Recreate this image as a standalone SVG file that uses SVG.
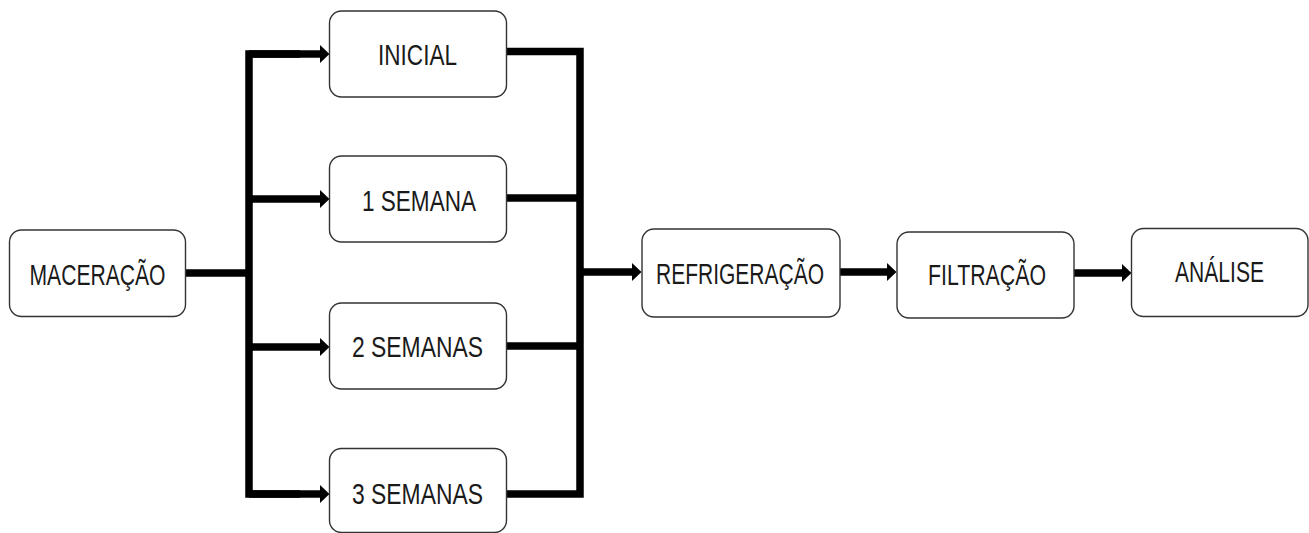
<svg xmlns="http://www.w3.org/2000/svg" width="1309" height="533" viewBox="0 0 1309 533">
  <style>
    .box { fill: #ffffff; stroke: #333333; stroke-width: 1.4; }
    .lbl { font-family: "Liberation Sans Narrow", "Liberation Sans", Arial, sans-serif; font-size: 29px; fill: #1a1a1a; text-anchor: middle; }
    .wire { fill: none; stroke: #000000; stroke-width: 7.5; stroke-linejoin: miter; stroke-linecap: butt; }
    .arrow { fill: none; stroke: #000000; stroke-width: 7.5; stroke-linecap: butt; marker-end: url(#head); }
  </style>
  <defs>
    <marker id="head" markerUnits="userSpaceOnUse" markerWidth="11" markerHeight="20" refX="0.5" refY="9.5" orient="auto">
      <path d="M0,0 L10,9.5 L0,19 Z" fill="#000000"/>
    </marker>
  </defs>
  <rect width="1309" height="533" fill="#ffffff"/>

  <!-- connectors -->
  <g id="connectors">
    <!-- maceration to distribution bus -->
    <path class="wire" d="M186 273 H249"/>
    <!-- left distribution bus -->
    <path class="wire" d="M300 54 H249 V494 H300"/>
    <path class="arrow" d="M249 54 H320"/>
    <path class="arrow" d="M249 199 H320"/>
    <path class="arrow" d="M249 347 H320"/>
    <path class="arrow" d="M249 494 H320"/>
    <!-- right collecting bus -->
    <path class="wire" d="M507 51.5 H580 V494 H507"/>
    <path class="wire" d="M507 198 H580"/>
    <path class="wire" d="M507 346 H580"/>
    <path class="arrow" d="M580 272 H632"/>
    <!-- main line -->
    <path class="arrow" d="M840 272 H887"/>
    <path class="arrow" d="M1074 273 H1122"/>
  </g>

  <g id="maceracao">
    <rect class="box" x="9.5" y="230" width="176" height="86.5" rx="12"/>
    <text class="lbl" x="97.5" y="285" textLength="136" lengthAdjust="spacingAndGlyphs">MACERAÇÃO</text>
  </g>
  <g id="inicial">
    <rect class="box" x="329.5" y="11" width="177" height="86" rx="12"/>
    <text class="lbl" x="417.5" y="65" textLength="79" lengthAdjust="spacingAndGlyphs">INICIAL</text>
  </g>
  <g id="semana1">
    <rect class="box" x="329.5" y="156" width="177" height="86" rx="12"/>
    <text class="lbl" x="419" y="211" textLength="114" lengthAdjust="spacingAndGlyphs">1 SEMANA</text>
  </g>
  <g id="semanas2">
    <rect class="box" x="329.5" y="303" width="177" height="86" rx="12"/>
    <text class="lbl" x="417.5" y="357" textLength="131" lengthAdjust="spacingAndGlyphs">2 SEMANAS</text>
  </g>
  <g id="semanas3">
    <rect class="box" x="329.5" y="448.5" width="177" height="84" rx="12"/>
    <text class="lbl" x="417.5" y="503.5" textLength="131" lengthAdjust="spacingAndGlyphs">3 SEMANAS</text>
  </g>
  <g id="refrigeracao">
    <rect class="box" x="642" y="229" width="198" height="88" rx="12"/>
    <text class="lbl" x="740" y="283.5" textLength="168" lengthAdjust="spacingAndGlyphs">REFRIGERAÇÃO</text>
  </g>
  <g id="filtracao">
    <rect class="box" x="897" y="232" width="177" height="86" rx="12"/>
    <text class="lbl" x="987" y="285" textLength="118" lengthAdjust="spacingAndGlyphs">FILTRAÇÃO</text>
  </g>
  <g id="analise">
    <rect class="box" x="1131.5" y="228.5" width="176.5" height="88" rx="12"/>
    <text class="lbl" x="1219.5" y="282" textLength="89" lengthAdjust="spacingAndGlyphs">ANÁLISE</text>
  </g>
</svg>
